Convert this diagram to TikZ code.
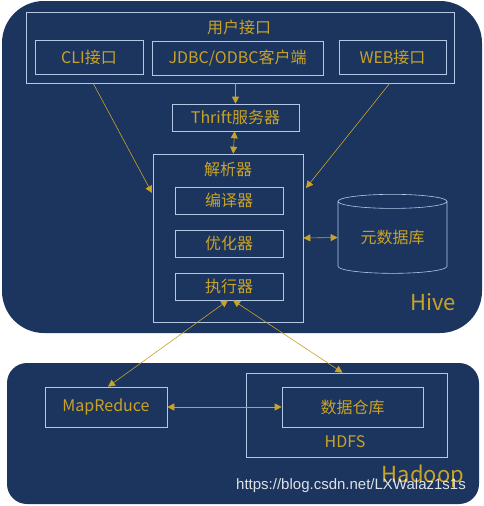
\documentclass[tikz,border=0pt]{standalone}
\usepackage{fontspec}
\setmainfont{Noto Sans CJK SC}
\newfontfamily\wmfont{Liberation Sans}
\usetikzlibrary{arrows.meta,shapes.geometric}
\definecolor{navy}{HTML}{1B355F}
\definecolor{gold}{HTML}{C9A227}
\definecolor{edge}{HTML}{B4C7E7}
\tikzset{
  box/.style={draw=edge, line width=0.6pt, inner sep=0pt, text=gold, font=\fontsize{16}{16}\selectfont},
  lbl/.style={text=gold, inner sep=0pt, font=\fontsize{16}{16}\selectfont},
  big/.style={text=gold, inner sep=0pt, font=\fontsize{22}{22}\selectfont},
  link/.style={draw=gold, line width=0.6pt, -{Triangle[length=7pt,width=7pt]}},
  dlink/.style={draw=gold, line width=0.6pt, {Triangle[length=7pt,width=7pt]}-{Triangle[length=7pt,width=7pt]}}
}
\begin{document}
\begin{tikzpicture}[x=1pt, y=-1pt]
	\fill[white] (0,0) rectangle (483,506);
	\useasboundingbox (0,0) rectangle (483,506);
	% Hive
	\fill[navy, rounded corners=42pt] (2,1) rectangle (482,333);
	\node[box, minimum width=428, minimum height=71] (user) at (240,47.5) {};
	\node[lbl] (userlbl) at (239,27) {用户接口};
	\node[box, minimum width=108, minimum height=34] (cli) at (89,57) {CLI接口};
	\node[box, minimum width=171, minimum height=34] (jdbc) at (237.5,58) {JDBC/ODBC客户端};
	\node[box, minimum width=107, minimum height=34] (web) at (392.5,57) {WEB接口};
	\node[box, minimum width=127, minimum height=27] (thrift) at (235.5,117.5) {Thrift服务器};
	\node[box, minimum width=150, minimum height=168] (parser) at (228,238) {};
	\node[lbl] (parserlbl) at (228,169) {解析器};
	\node[box, minimum width=108, minimum height=27] (comp) at (229,200.5) {编译器};
	\node[box, minimum width=108, minimum height=27] (opt) at (229,243.5) {优化器};
	\node[box, minimum width=108, minimum height=27] (exec) at (229,286.5) {执行器};
	\node[box, cylinder, shape border rotate=90, aspect=0.22, minimum width=109, minimum height=79] (meta) at (392.5,237.5) {元数据库};
	\node[big] (hive) at (433,302) {Hive};
	\coordinate (clifoot) at (93,83);
	\coordinate (webfoot) at (390,83);
	\coordinate (cliend) at (152,193);
	\coordinate (webend) at (306,188);
	\draw[link] (thrift.north |- user.south) -- (thrift.north);
	\draw[dlink] (thrift) -- (parser);
	\draw[link] (clifoot) -- (cliend);
	\draw[link] (webfoot) -- (webend);
	\draw[dlink] (parser.east) -- (meta.west);
	% Hadoop
	\fill[navy, rounded corners=20pt] (7,363) rectangle (479,504);
	\node[box, minimum width=122, minimum height=40] (mapred) at (106,407) {MapReduce};
	\node[box, minimum width=201, minimum height=84] (hdfs) at (346.5,415) {};
	\node[lbl] (hdfslbl) at (345,442) {HDFS};
	\node[box, minimum width=141, minimum height=40] (dw) at (352.5,407) {数据仓库};
	\node[big] (hadoop) at (423,476) {Hadoop};
	\draw[dlink] ([xshift=-1pt]exec.south) -- ([xshift=2pt]mapred.north);
	\draw[dlink] ([xshift=4pt]exec.south) -- ([xshift=-4pt]hdfs.north);
	\draw[dlink] (mapred) -- (dw);
	\node[text=white, opacity=0.85, inner sep=0pt, font=\wmfont\fontsize{15}{15}\selectfont] (mark) at (351,486) {https://blog.csdn.net/LXWalaz1s1s};
\end{tikzpicture}
\end{document}
